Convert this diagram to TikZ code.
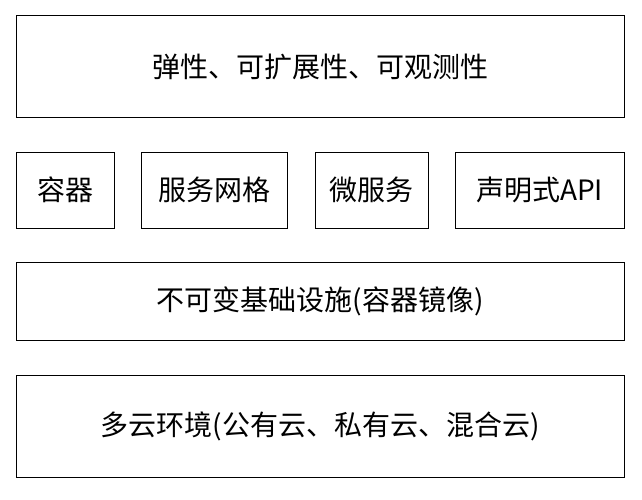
\documentclass[tikz,border=0pt]{standalone}
\usepackage{fontspec}
\setmainfont{Noto Sans CJK SC}
\begin{document}
\begin{tikzpicture}[x=1pt,y=-1pt,
  box/.style={draw=black,line width=1pt,inner sep=0pt,font=\fontsize{28}{32}\selectfont}]
\useasboundingbox (0,0) rectangle (642,500);
\node[box,minimum width=608pt,minimum height=102pt] (top) at (320,67) {弹性、可扩展性、可观测性};
\node[box,minimum width=98pt,minimum height=76pt] (c1) at (65,190) {容器};
\node[box,minimum width=146pt,minimum height=76pt] (c2) at (214,190) {服务网格};
\node[box,minimum width=113pt,minimum height=76pt] (c3) at (371.5,190) {微服务};
\node[box,minimum width=169pt,minimum height=76pt] (c4) at (539.5,190) {声明式API};
\node[box,minimum width=608pt,minimum height=78pt] (mid) at (320,301) {不可变基础设施(容器镜像)};
\node[box,minimum width=608pt,minimum height=102pt] (bot) at (320,426) {多云环境(公有云、私有云、混合云)};
\end{tikzpicture}
\end{document}
